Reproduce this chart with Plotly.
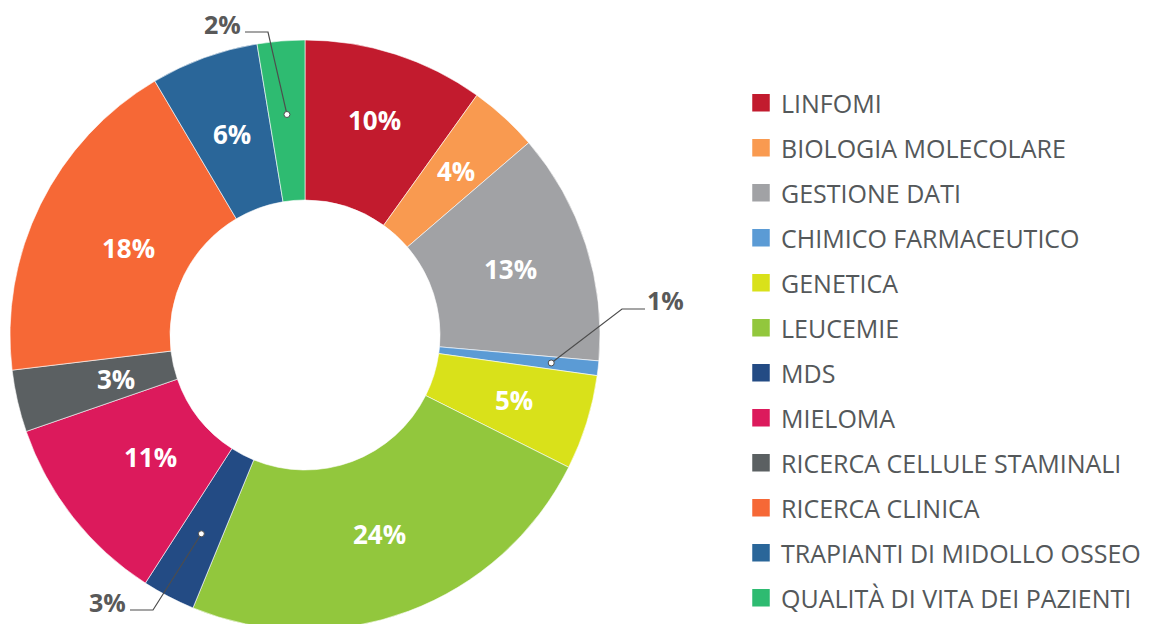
import math
import plotly.graph_objects as go

# ---------------- data ----------------
categories = [
    "LINFOMI", "BIOLOGIA MOLECOLARE", "GESTIONE DATI", "CHIMICO FARMACEUTICO",
    "GENETICA", "LEUCEMIE", "MDS", "MIELOMA", "RICERCA CELLULE STAMINALI",
    "RICERCA CLINICA", "TRAPIANTI DI MIDOLLO OSSEO", "QUALITÀ DI VITA DEI PAZIENTI",
]
values = [9.9, 3.8, 12.7, 0.8, 5.2, 23.8, 2.9, 10.6, 3.4, 18.4, 5.9, 2.6]
pct_labels = ["10%", "4%", "13%", "1%", "5%", "24%", "3%", "11%", "3%", "18%", "6%", "2%"]

colors = ["#C21B2E", "#F99A50", "#A1A2A5", "#5B9BD5", "#D9E11A", "#92C73D",
          "#234B84", "#DC1A5C", "#5B6062", "#F66836", "#2A6699", "#2EBB71"]

# ---------------- layout geometry ----------------
W, H = 1152, 624
OFF = 8                     # page body margin in the browser
CX, CY, R = 305 - OFF, 335 - OFF, 295
HOLE = 135 / R
TXT = "#595959"
LABEL_FONT = dict(family="Open Sans", size=26, color="white", weight="bold")

# inside labels: radius as a fraction of the outer radius
inside_r = {
    "LINFOMI": 0.765,
    "BIOLOGIA MOLECOLARE": 0.756,
    "GESTIONE DATI": 0.732,
    "GENETICA": 0.742,
    "LEUCEMIE": 0.722,
    "MIELOMA": 0.668,
    "RICERCA CELLULE STAMINALI": 0.658,
    "RICERCA CLINICA": 0.667,
    "TRAPIANTI DI MIDOLLO OSSEO": 0.725,
}
# outside labels: (dot radius fraction, elbow point, line end near text, text center) in screen px
leader = {
    "QUALITÀ DI VITA DEI PAZIENTI": (0.75, (268, 32), (245, 32), (222, 24)),
    "CHIMICO FARMACEUTICO": (0.84, (622, 309), (645, 309), (665, 300)),
    "MDS": (0.76, (153, 610), (130, 610), (107, 602)),
}

fig = go.Figure()

fig.add_trace(go.Pie(
    labels=categories, values=values, textinfo="none",
    sort=False, direction="clockwise", rotation=0, hole=HOLE,
    marker=dict(colors=colors, line=dict(color="white", width=0.6)),
    domain=dict(x=[(CX - R) / W, (CX + R) / W], y=[1 - (CY + R) / H, 1 - (CY - R) / H]),
    showlegend=False, hoverinfo="label+percent",
))

# legend entries
for c, col in zip(categories, colors):
    fig.add_trace(go.Scatter(
        x=[None], y=[None], mode="markers", name=c, legendgroup=c,
        marker=dict(symbol="square", size=16, color=col, line=dict(color=col, width=1.5)),
        showlegend=True, hoverinfo="skip",
    ))

def px2paper(x, y, screen=True):
    if screen:
        x, y = x - OFF, y - OFF
    return x / W, 1 - y / H

total = sum(values)
cum = 0.0
mid_angle = {}
for c, v in zip(categories, values):
    mid_angle[c] = 2 * math.pi * (cum + v / 2) / total
    cum += v

def polar(c, rf):
    a = mid_angle[c]
    return CX + rf * R * math.sin(a), CY - rf * R * math.cos(a)

shapes = []
annotations = []
for c, rf in inside_r.items():
    x, y = px2paper(*polar(c, rf), screen=False)
    annotations.append(dict(x=x, y=y, xref="paper", yref="paper", showarrow=False,
                            text=pct_labels[categories.index(c)], font=LABEL_FONT,
                            xanchor="center", yanchor="middle"))

for c, (rf, elbow, end, tc) in leader.items():
    dx, dy = polar(c, rf)
    p0 = px2paper(dx, dy, screen=False)
    p1 = px2paper(*elbow)
    p2 = px2paper(*end)
    shapes.append(dict(type="path", xref="paper", yref="paper",
                       path=f"M{p0[0]},{p0[1]} L{p1[0]},{p1[1]} L{p2[0]},{p2[1]}",
                       line=dict(color="#4d4d4d", width=1.2)))
    rr = 3
    shapes.append(dict(type="circle", xref="paper", yref="paper",
                       x0=(dx - rr) / W, x1=(dx + rr) / W, y0=1 - (dy + rr) / H, y1=1 - (dy - rr) / H,
                       fillcolor="white", line=dict(color="#4d4d4d", width=1)))
    tx, ty = px2paper(*tc)
    annotations.append(dict(x=tx, y=ty, xref="paper", yref="paper", showarrow=False,
                            text=pct_labels[categories.index(c)],
                            font=dict(family="Open Sans", size=25, color=TXT, weight="bold"),
                            xanchor="center", yanchor="middle"))

fig.update_layout(
    width=W, height=H, margin=dict(l=0, r=0, t=0, b=0, autoexpand=False),
    paper_bgcolor="white", plot_bgcolor="white",
    xaxis=dict(visible=False), yaxis=dict(visible=False),
    shapes=shapes, annotations=annotations,
    legend=dict(x=733 / W, y=1 - 72 / H, xanchor="left", yanchor="top",
                font=dict(family="Open Sans", size=25, color="#54585A"),
                tracegroupgap=9.5, itemsizing="trace", bgcolor="rgba(0,0,0,0)"),
)

fig.write_html("out.html")
